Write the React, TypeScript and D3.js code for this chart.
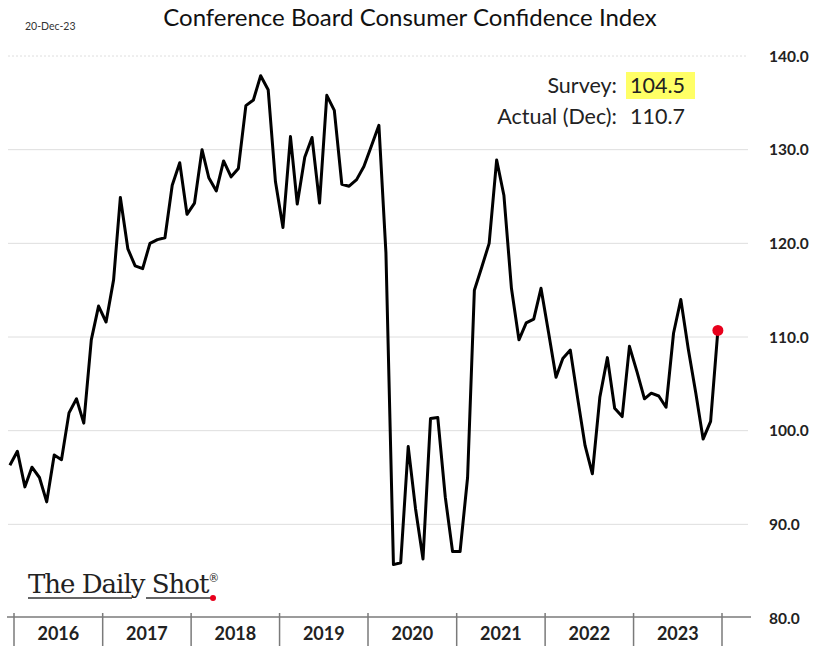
import React from "react";
import * as d3 from "d3";

const startYear = 2015;
const startMonth = 11; // Dec 2015 (0-based month)
const values: number[] = [
  96.3,
  97.8, 94.0, 96.1, 95.0, 92.4, 97.4, 96.9, 101.9, 103.4, 100.8, 109.7, 113.3,
  111.6, 116.1, 124.9, 119.4, 117.6, 117.3, 120.0, 120.4, 120.6, 126.2, 128.6, 123.1,
  124.3, 130.0, 127.0, 125.6, 128.8, 127.1, 128.0, 134.7, 135.3, 137.9, 136.4, 126.6,
  121.7, 131.4, 124.2, 129.2, 131.3, 124.3, 135.8, 134.2, 126.3, 126.1, 126.8, 128.2,
  130.4, 132.6, 119.0, 85.7, 85.9, 98.3, 91.7, 86.3, 101.3, 101.4, 92.9, 87.1,
  87.1, 95.0, 115.0, 117.5, 120.0, 128.9, 125.1, 115.2, 109.7, 111.5, 111.9, 115.2,
  110.5, 105.7, 107.7, 108.6, 103.5, 98.4, 95.4, 103.6, 107.8, 102.4, 101.5, 109.0,
  106.3, 103.4, 104.0, 103.7, 102.5, 110.4, 114.0, 108.7, 104.0, 99.1, 101.0, 110.7,
];
const years = ["2016", "2017", "2018", "2019", "2020", "2021", "2022", "2023"];
const yTicks = [80, 90, 100, 110, 120, 130, 140];
const title = "Conference Board Consumer Confidence Index";
const dateLabel = "20-Dec-23";
const surveyLabel = "Survey:";
const surveyValue = "104.5";
const actualLabel = "Actual (Dec):";
const actualValue = "110.7";

const W = 836;
const H = 664;
const font = "Lato, 'Open Sans', sans-serif";

export default function App() {
  const data = values.map((v, i) => ({
    date: new Date(startYear, startMonth + i, 15),
    v,
  }));
  const x = d3
    .scaleTime()
    .domain([new Date(2016, 0, 1), new Date(2024, 0, 1)])
    .range([14, 722]);
  const y = d3.scaleLinear().domain([80, 140]).range([618, 56]);
  const line = d3
    .line<{ date: Date; v: number }>()
    .x((d) => x(d.date))
    .y((d) => y(d.v));
  const last = data[data.length - 1];
  const dividers = d3.range(0, years.length + 1).map((k) => new Date(2016 + k, 0, 1));

  return (
    <svg
      width={W}
      height={H}
      style={{ position: "absolute", left: 0, top: 0, background: "#fff" }}
    >
      <rect x={0} y={0} width={W} height={H} fill="#fff" />
      {/* gridlines */}
      {yTicks
        .filter((t) => t > 80)
        .map((t) => (
          <line
            key={t}
            x1={8}
            x2={748}
            y1={y(t)}
            y2={y(t)}
            stroke="#dedede"
            strokeWidth={1}
            strokeDasharray={t === 140 ? "2,2" : undefined}
          />
        ))}
      {/* y labels */}
      {yTicks.map((t) => (
        <text
          key={t}
          x={769}
          y={y(t) + 5.5}
          fontFamily={font}
          fontSize={15.5}
          fontWeight="bold"
          fill="#222"
        >
          {t.toFixed(1)}
        </text>
      ))}
      {/* x axis */}
      <line x1={7} x2={751} y1={617} y2={617} stroke="#7a7a7a" strokeWidth={1.5} />
      {dividers.map((d, i) => (
        <line
          key={i}
          x1={x(d)}
          x2={x(d)}
          y1={613}
          y2={646}
          stroke="#7a7a7a"
          strokeWidth={1.5}
        />
      ))}
      {years.map((yr, i) => (
        <text
          key={yr}
          x={(x(dividers[i]) + x(dividers[i + 1])) / 2}
          y={640}
          textAnchor="middle"
          fontFamily={font}
          fontSize={18}
          fontWeight="bold"
          fill="#222"
        >
          {yr}
        </text>
      ))}
      {/* line */}
      <path
        d={line(data) || ""}
        fill="none"
        stroke="#000"
        strokeWidth={3}
        strokeLinejoin="round"
      />
      <circle cx={x(last.date)} cy={y(last.v)} r={5.5} fill="#e8001c" />
      {/* title */}
      <text x={25} y={30} fontFamily={font} fontSize={10.5} fill="#333">
        {dateLabel}
      </text>
      <text
        x={410}
        y={26}
        textAnchor="middle"
        fontFamily={font}
        fontSize={24}
        fill="#111"
      >
        {title}
      </text>
      {/* annotation */}
      <rect x={626} y={72} width={69} height={27} fill="#ffff66" />
      <text x={617} y={93} textAnchor="end" fontFamily={font} fontSize={21.5} fill="#222">
        {surveyLabel}
      </text>
      <text x={630} y={93} fontFamily={font} fontSize={21.5} fill="#222">
        {surveyValue}
      </text>
      <text x={617} y={124} textAnchor="end" fontFamily={font} fontSize={21.5} fill="#222">
        {actualLabel}
      </text>
      <text x={630} y={124} fontFamily={font} fontSize={21.5} fill="#222">
        {actualValue}
      </text>
      {/* logo */}
      <text
        x={28}
        y={593}
        fontFamily="'DejaVu Serif', 'Liberation Serif', serif"
        fontSize={26}
        fill="#222"
        letterSpacing={-1}
      >
        The Daily Shot
        <tspan fontSize={11} dy={-11}>®</tspan>
      </text>
      <line x1={28} x2={132} y1={598} y2={598} stroke="#333" strokeWidth={1.5} />
      <line x1={146} x2={212} y1={598} y2={598} stroke="#333" strokeWidth={1.5} />
      <circle cx={213} cy={598} r={3} fill="#e8001c" />
    </svg>
  );
}
